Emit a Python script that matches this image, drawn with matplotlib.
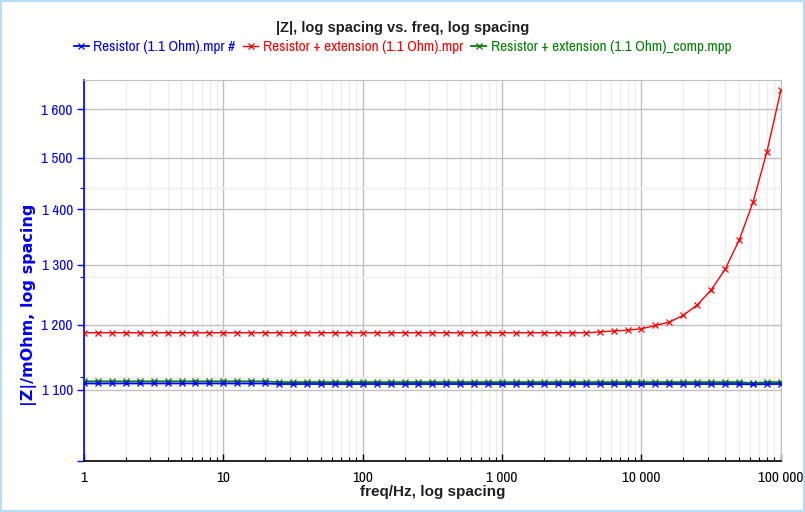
import matplotlib
matplotlib.use("Agg")
import matplotlib.pyplot as plt
import matplotlib.ticker as mticker
from matplotlib.patches import Rectangle
from matplotlib import font_manager as fm

_avail = set(f.name for f in fm.fontManager.ttflist)
_prefs = ["Liberation Sans Narrow", "Arial Narrow", "Archivo Narrow", "PT Sans Narrow",
          "Roboto Condensed", "Open Sans Condensed", "Liberation Sans"]
NARROW = next((p for p in _prefs if p in _avail), "DejaVu Sans")
FONT = [NARROW, "DejaVu Sans"]
BFONT = ["Liberation Sans", "DejaVu Sans"]
plt.rcParams['font.family'] = FONT

freq = [1.0, 1.259, 1.585, 1.995, 2.512, 3.162, 3.981, 5.012, 6.310, 7.943,
        10.0, 12.59, 15.85, 19.95, 25.12, 31.62, 39.81, 50.12, 63.10, 79.43,
        100.0, 125.9, 158.5, 199.5, 251.2, 316.2, 398.1, 501.2, 631.0, 794.3,
        1000.0, 1259, 1585, 1995, 2512, 3162, 3981, 5012, 6310, 7943,
        10000, 12589, 15849, 19953, 25119, 31623, 39811, 50119, 63096, 79433,
        100000]

z_blue = [1109.2] * 14 + [1108.4] * 34 + [1107.8, 1108.4, 1108.4]
z_red = [1187.0] * 37 + [1188.3, 1189.7, 1191.1, 1193.3, 1198.6, 1204.0, 1215.0,
                         1232.0, 1257.0, 1292.0, 1343.0, 1413.0, 1512.0, 1641.0]
z_green = [1112.3] * 14 + [1111.2] * 34 + [1109.6, 1111.2, 1111.2]

labels = ["Resistor (1.1 Ohm).mpr #",
          "Resistor + extension (1.1 Ohm).mpr",
          "Resistor + extension (1.1 Ohm)_comp.mpp"]
colors = ["#0000ff", "#ff0000", "#008000"]

x_ticks = [1, 10, 100, 1000, 10000, 100000]
x_ticklabels = ["1", "10", "100", "1 000", "10 000", "100 000"]
y_ticks = [1000, 1100, 1200, 1300, 1400, 1500, 1600]
y_ticklabels = ["", "1 100", "1 200", "1 300", "1 400", "1 500", "1 600"]
y_minor = [1119, 1279, 1440]

fig = plt.figure(figsize=(8.05, 5.12), dpi=100)
fig.patch.set_facecolor("white")
fig.patches.append(Rectangle((0, 0), 1, 1, transform=fig.transFigure,
                             fill=False, edgecolor="#b9dcf5", linewidth=3))

ax = fig.add_axes([0.1043, 0.0996, 0.8657, 0.7441])
ax.set_xscale("log")
ax.set_yscale("log")
ax.set_xlim(1, 100000)
ax.set_ylim(1000, 1664)

lr, = ax.plot(freq, z_red, color=colors[1], lw=1.0, marker="x", ms=4, mew=0.9, zorder=3)
lg, = ax.plot(freq, z_green, color=colors[2], lw=1.3, marker="x", ms=4, mew=0.9, zorder=3)
lb, = ax.plot(freq, z_blue, color=colors[0], lw=1.3, marker="x", ms=4, mew=0.9, zorder=4)

ax.xaxis.set_major_locator(mticker.FixedLocator(x_ticks))
ax.xaxis.set_major_formatter(mticker.FixedFormatter(x_ticklabels))
ax.xaxis.set_minor_locator(mticker.LogLocator(base=10, subs=range(2, 10)))
ax.xaxis.set_minor_formatter(mticker.NullFormatter())
ax.yaxis.set_major_locator(mticker.FixedLocator(y_ticks))
ax.yaxis.set_major_formatter(mticker.FixedFormatter(y_ticklabels))
ax.yaxis.set_minor_locator(mticker.FixedLocator(y_minor))
ax.yaxis.set_minor_formatter(mticker.NullFormatter())

ax.tick_params(axis="x", which="major", direction="in", length=5, width=1, color="black",
               labelsize=11, labelcolor="black", pad=7)
ax.tick_params(axis="x", which="minor", direction="in", length=3, width=0.8, color="black")
ax.tick_params(axis="y", which="major", direction="out", length=5, width=1, color="#0000ff",
               labelsize=11, labelcolor="#0000ff", pad=3)
ax.tick_params(axis="y", which="minor", direction="out", length=3, width=0.8, color="#0000ff")

ax.grid(True, which="major", color="#c0c0c0", lw=1.0)
ax.grid(True, which="minor", color="#ededed", lw=1.0)
ax.set_axisbelow(True)

ax.spines["left"].set_color("#0000ff")
ax.spines["left"].set_linewidth(1.2)
ax.spines["bottom"].set_color("black")
ax.spines["bottom"].set_linewidth(1.2)
ax.spines["top"].set_color("#c0c0c0")
ax.spines["right"].set_color("#c0c0c0")

ax.set_xlabel("freq/Hz, log spacing", fontsize=11, fontweight="bold", color="#202020",
              family=BFONT, labelpad=0)
ax.set_ylabel("|Z|/mOhm, log spacing", fontsize=11.5, fontweight="bold", color="#0000ff",
              family=["DejaVu Sans"])
ax.yaxis.set_label_coords(-0.067, 0.41)

fig.text(0.5, 0.945, "|Z|, log spacing vs. freq, log spacing", ha="center", va="center",
         fontsize=10.5, fontweight="bold", color="#202020", family=BFONT)

leg = fig.legend([lb, lr, lg], labels, loc="center", bbox_to_anchor=(0.5, 0.908), ncol=3,
                 frameon=False, fontsize=11, handlelength=1.0, handletextpad=0.3,
                 columnspacing=0.5, labelcolor=colors)

fig.savefig("out.png", dpi=100, facecolor="white")
